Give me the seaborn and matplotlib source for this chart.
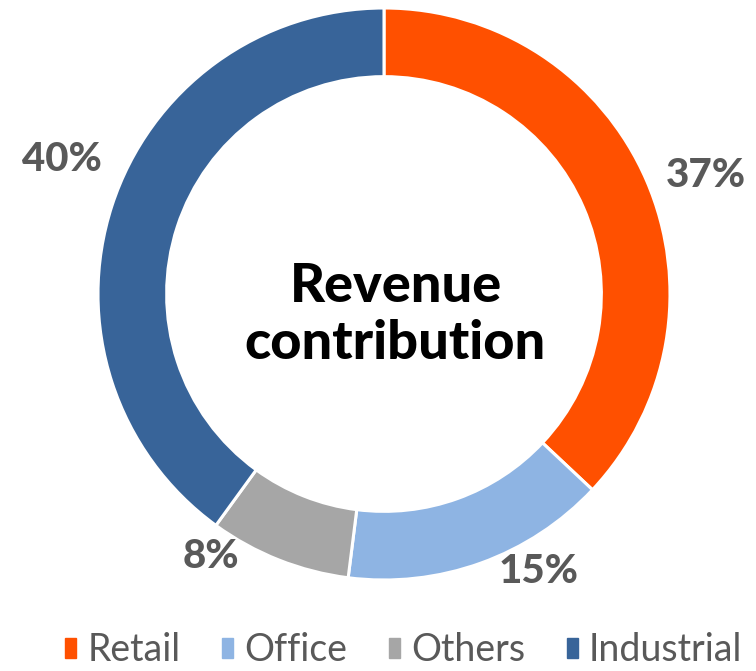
import numpy as np
import matplotlib
matplotlib.use("Agg")
import matplotlib.pyplot as plt
import matplotlib.patches as mpatches
import seaborn as sns

# data
segments = ["Retail", "Office", "Others", "Industrial"]
shares = [37, 15, 8, 40]
colors = ["#FF5000", "#8EB4E3", "#A6A6A6", "#386499"]

# label placement (style): angle nudge in degrees and distance from centre
label_shift = [-3.2, 9.3, -11.8, -4.6]
label_radius = [1.20, 1.11, 1.10, 1.22]

sns.set_theme(style="white")
plt.rcParams["font.family"] = ["Lato", "DejaVu Sans"]

fig = plt.figure(figsize=(7.56, 6.71), dpi=100)
ax = fig.add_axes([0, 0, 1, 1])

wedges, _ = ax.pie(
    shares,
    colors=colors,
    startangle=90,
    counterclock=False,
    radius=1.0,
    wedgeprops=dict(width=0.24, edgecolor="white", linewidth=2.2),
)

# value labels outside the ring
for w, val, sh, r in zip(wedges, shares, label_shift, label_radius):
    ang = np.deg2rad((w.theta1 + w.theta2) / 2 + sh)
    ax.text(r * np.cos(ang), r * np.sin(ang), f"{val}%",
            ha="center", va="center", fontsize=29, fontweight="black",
            color="#595959")

# centre title
ax.text(0.04, -0.075, "Revenue\ncontribution", ha="center", va="center",
        fontsize=39, fontweight="black", color="black", linespacing=1.2)

ax.set_aspect("equal")
ax.set_xlim(-384 / 286, (756 - 384) / 286)
ax.set_ylim(-377 / 286, 294 / 286)
ax.axis("off")

handles = [mpatches.Patch(color=c, label=s) for s, c in zip(segments, colors)]
leg = fig.legend(handles=handles, loc="center", bbox_to_anchor=(0.534, 0.031),
                 ncol=4, frameon=False, fontsize=27,
                 handlelength=0.3, handleheight=0.45, handletextpad=0.3,
                 columnspacing=1.1, borderpad=0, borderaxespad=0)
for t in leg.get_texts():
    t.set_color("#595959")

fig.savefig("out.png", dpi=100)
